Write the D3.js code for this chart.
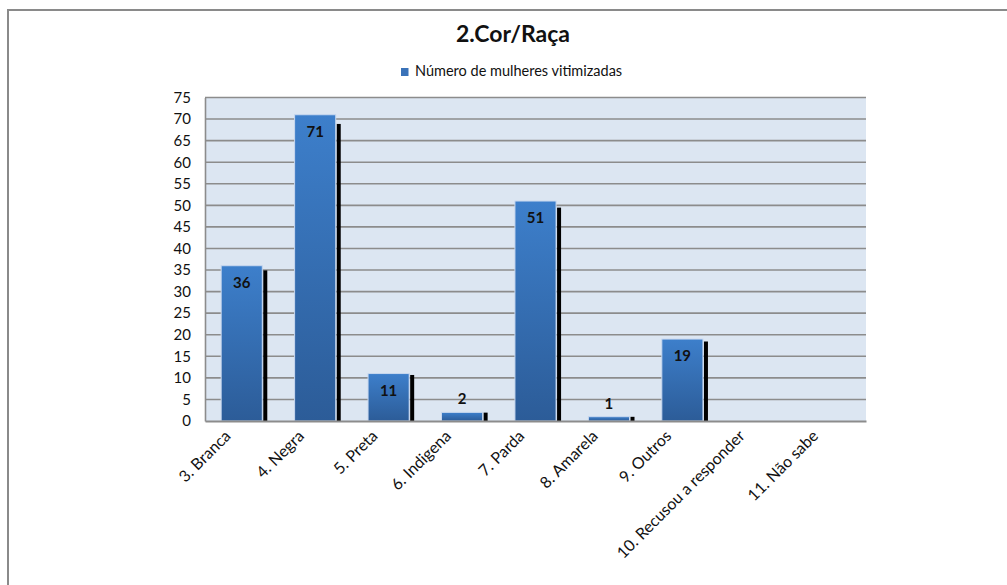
<!DOCTYPE html>
<html><head><meta charset="utf-8">
<script src="https://cdn.jsdelivr.net/npm/d3@7"></script>
<style>body{margin:0;background:#fff}svg{display:block}text{font-family:Lato,"Open Sans",sans-serif}</style>
</head><body>
<svg id="c" width="1007" height="585"></svg>
<script>
const categories = ["3. Branca","4. Negra","5. Preta","6. Indigena","7. Parda","8. Amarela","9. Outros","10. Recusou a responder","11. Não sabe"];
const values = [36,71,11,2,51,1,19,0,0];
const yTicks = [0,5,10,15,20,25,30,35,40,45,50,55,60,65,70,75];
const seriesName = "Número de mulheres vitimizadas";
const title = "2.Cor/Raça";

const svg = d3.select("#c");
const L = 205, R = 866, T = 97.5, B = 421;
const x = d3.scaleBand().domain(categories).range([L, R]).paddingInner(0.44).paddingOuter(0.22);
const y = d3.scaleLinear().domain([0, 75]).range([B, T]);

// outer frame
svg.append("path").attr("d","M8,600 L8,10 L1010,10").attr("fill","none").attr("stroke","#8a8a8a").attr("stroke-width",2);

const defs = svg.append("defs");
const g = defs.append("linearGradient").attr("id","bg").attr("x1",0).attr("y1",0).attr("x2",0).attr("y2",1);
g.append("stop").attr("offset","0%").attr("stop-color","#3d7fcb");
g.append("stop").attr("offset","100%").attr("stop-color","#2c5c98");

// plot background
svg.append("rect").attr("x",L).attr("y",T).attr("width",R-L).attr("height",B-T).attr("fill","#dce6f2");

// gridlines
svg.append("g").selectAll("line").data(yTicks.filter(d=>d>0)).join("line")
  .attr("x1",L).attr("x2",R).attr("y1",d=>y(d)).attr("y2",d=>y(d))
  .attr("stroke","#8c8c8c").attr("stroke-width",1.6);

// y axis
const ya = svg.append("g").attr("transform",`translate(${L},0)`)
  .call(d3.axisLeft(y).tickValues(yTicks).tickSize(0).tickPadding(14));
ya.select(".domain").attr("stroke","#8c8c8c").attr("stroke-width",1.6);
ya.selectAll("text").attr("font-size",15).attr("fill","#111");

const data = values.map((v,i)=>({v,c:categories[i]})).filter(d=>d.v>0);

// shadows
svg.append("g").selectAll("rect").data(data).join("rect")
  .attr("x",d=>x(d.c)+x.bandwidth()+1).attr("width",4)
  .attr("y",d=>y(d.v*0.97)).attr("height",d=>B-y(d.v*0.97))
  .attr("fill","#000");

// bars
svg.append("g").selectAll("rect").data(data).join("rect")
  .attr("x",d=>x(d.c)).attr("width",x.bandwidth())
  .attr("y",d=>y(d.v)).attr("height",d=>B-y(d.v))
  .attr("fill","url(#bg)").attr("stroke","#c8d8ef").attr("stroke-width",1);

// x axis line
const xa = svg.append("g").attr("transform",`translate(0,${B})`)
  .call(d3.axisBottom(x).tickSize(0).tickFormat(""));
xa.select(".domain").attr("stroke","#8c8c8c").attr("stroke-width",1.8);

// value labels
svg.append("g").selectAll("text").data(data).join("text")
  .attr("x",d=>x(d.c)+x.bandwidth()/2)
  .attr("y",d=>(B-y(d.v))<25 ? y(d.v)-8 : y(d.v)+22)
  .attr("text-anchor","middle").attr("font-size",15).attr("font-weight","bold").attr("fill","#111")
  .text(d=>d.v);

// category labels
svg.append("g").selectAll("text").data(categories).join("text")
  .attr("transform",d=>`translate(${x(d)+x.bandwidth()/2-10},${B+16}) rotate(-45)`)
  .attr("text-anchor","end").attr("font-size",16).attr("fill","#111")
  .text(d=>d);

// title
svg.append("text").attr("x",513).attr("y",42).attr("text-anchor","middle")
  .attr("font-size",23).attr("font-weight","bold").attr("fill","#111").text(title);

// legend
svg.append("rect").attr("x",401).attr("y",68).attr("width",7.5).attr("height",8).attr("fill","#3a72b8");
svg.append("text").attr("x",415).attr("y",76).attr("font-size",14.5).attr("fill","#111").text(seriesName);
</script>
</body></html>
